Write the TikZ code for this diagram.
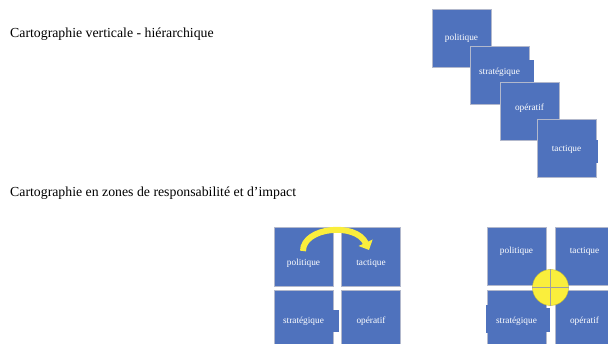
\documentclass[tikz,border=0pt]{standalone}
\usepackage{fontspec}
\setmainfont{Liberation Serif}
\usetikzlibrary{arrows.meta}
\definecolor{boxblue}{RGB}{79,114,189}
\definecolor{edgegray}{RGB}{178,184,204}
\definecolor{hiyellow}{RGB}{250,238,60}
\tikzset{
  box/.style={draw=edgegray, line width=0.5pt, fill=boxblue, minimum width=59pt,
    minimum height=58pt, inner sep=0pt, text=white, font=\fontsize{9.3}{11}\selectfont},
  lower/.style={text height=#1, text depth=2pt},
  raise/.style={text height=6pt, text depth=#1},
  notch/.style={fill=boxblue},
  title/.style={anchor=base west, inner sep=0pt, font=\fontsize{13.8}{16}\selectfont}
}

\begin{document}
\begin{tikzpicture}[x=1pt,y=-1pt]
    \useasboundingbox (0,0) rectangle (608,344);
    \clip (0,0) rectangle (608,344);
    % titres
    \node[title] (vert) at (10,37.5) {Cartographie verticale - hiérarchique};
    \node[title] (zones) at (10,197) {Cartographie en zones de responsabilité et d’impact};
    % cascade verticale
    \node[box] (pol1) at (461.5,38) {politique};
    \node[box, raise=7pt] (str1) at (499.5,75) {stratégique};
    \fill[notch] (528,60) rectangle (534,82);
    \node[box, raise=7pt] (op1) at (529.5,111.5) {opératif};
    \node[box, lower=10pt] (tac1) at (566.5,148) {tactique};
    \fill[notch] (595,140) rectangle (597.5,163);
    % zones, avec fleche
    \node[box, minimum height=59pt, lower=21pt] (pol2) at (303.5,256.5) {politique};
    \node[box, minimum height=59pt, lower=21pt] (tac2) at (371,256.5) {tactique};
    \node[box, minimum height=59pt, lower=11pt] (str2) at (303.5,319.5) {stratégique};
    \fill[notch] (332,310) rectangle (339,332);
    \node[box, minimum height=59pt, lower=11pt] (op2) at (371,319.5) {opératif};
    \coordinate (a1) at (303,251);
    \coordinate (a2) at (369,250);
    \draw[hiyellow, line width=6pt, -{Triangle[width=15pt,length=8pt]}]
        (a1) .. controls (303,227) and (356,222) .. (a2);
    % zones, avec centre
    \node[box, raise=10pt] (pol3) at (516.5,256) {politique};
    \node[box, raise=10pt] (tac3) at (584.5,256) {tactique};
    \node[box, minimum height=59pt, lower=11pt] (str3) at (516.5,319.5) {stratégique};
    \fill[notch] (545,308) rectangle (550,332);
    \fill[notch] (485.5,305) rectangle (487.5,333);
    \node[box, minimum height=59pt, lower=11pt] (op3) at (584.5,319.5) {opératif};
    \node[circle, fill=hiyellow, draw=hiyellow!80!black, line width=0.4pt,
        minimum size=36pt, inner sep=0pt] (hub) at (550.5,287.5) {};
    \draw[gray!75, line width=0.8pt] (hub.west) -- (hub.east);
    \draw[gray!75, line width=0.8pt] (hub.north) -- (hub.south);
\end{tikzpicture}
\end{document}
